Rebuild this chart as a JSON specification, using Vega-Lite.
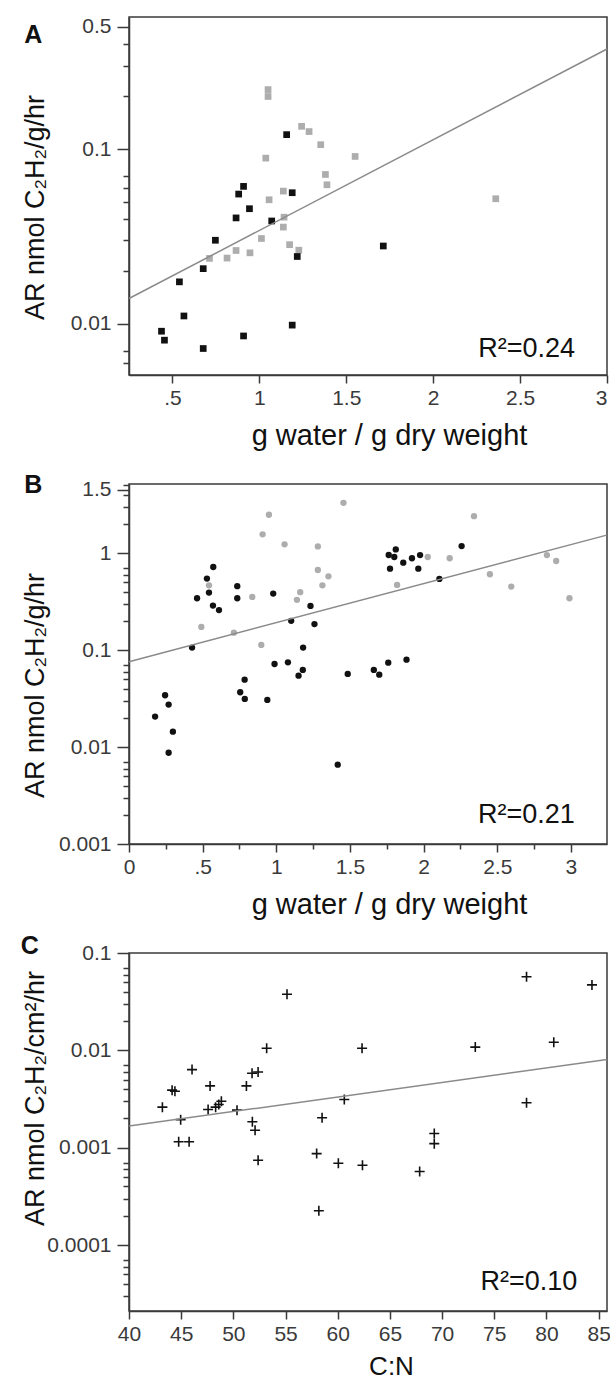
{
  "$schema": "https://vega.github.io/schema/vega-lite/v6.json",
  "background": "white",
  "padding": {"left": 20, "top": 15, "right": 0, "bottom": 0},
  "bounds": "flush",
  "spacing": 109,
  "config": {
    "font": "Liberation Sans",
    "view": {"stroke": "#3a3a3a", "strokeWidth": 1.5},
    "axis": {"grid": false, "labelFont": "Liberation Sans", "labelFontSize": 21, "labelColor": "#3a3a3a", "titleFont": "Liberation Sans", "titleFontSize": 27, "titleFontWeight": "normal", "titleColor": "#111111", "domainColor": "#3a3a3a", "domainWidth": 1.5, "tickColor": "#3a3a3a", "tickWidth": 1.5, "labelOverlap": false, "labelBound": false, "labelFlush": false},
    "axisY": {"titleAngle": -90, "titleBaseline": "alphabetic", "titleX": -86, "labelPadding": 6},
    "axisX": {"titlePadding": 13, "labelPadding": 4, "titleFontSize": 29}
  },
  "datasets": {
    "a_pts": [
      {"x": 1.243, "y": 0.135, "g": "l"}, {"x": 1.286, "y": 0.126, "g": "l"}, {"x": 1.353, "y": 0.106, "g": "l"}, {"x": 1.037, "y": 0.0888, "g": "l"}, {"x": 1.551, "y": 0.0908, "g": "l"}, {"x": 1.38, "y": 0.0716, "g": "l"}, {"x": 1.389, "y": 0.0625, "g": "l"}, {"x": 1.138, "y": 0.0575, "g": "l"}, {"x": 1.056, "y": 0.0513, "g": "l"}, {"x": 1.142, "y": 0.0408, "g": "l"}, {"x": 1.138, "y": 0.0358, "g": "l"}, {"x": 1.012, "y": 0.0308, "g": "l"}, {"x": 1.174, "y": 0.0284, "g": "l"}, {"x": 1.227, "y": 0.0264, "g": "l"}, {"x": 0.866, "y": 0.0263, "g": "l"}, {"x": 0.946, "y": 0.0255, "g": "l"}, {"x": 0.814, "y": 0.0238, "g": "l"}, {"x": 0.713, "y": 0.0237, "g": "l"}, {"x": 1.05, "y": 0.219, "g": "l"}, {"x": 1.05, "y": 0.2, "g": "l"}, {"x": 2.36, "y": 0.052, "g": "l"},
      {"x": 1.157, "y": 0.121, "g": "k"}, {"x": 0.909, "y": 0.0612, "g": "k"}, {"x": 0.881, "y": 0.0553, "g": "k"}, {"x": 0.943, "y": 0.0456, "g": "k"}, {"x": 0.866, "y": 0.0404, "g": "k"}, {"x": 1.071, "y": 0.0388, "g": "k"}, {"x": 1.189, "y": 0.0563, "g": "k"}, {"x": 0.747, "y": 0.0301, "g": "k"}, {"x": 1.218, "y": 0.0243, "g": "k"}, {"x": 0.677, "y": 0.0207, "g": "k"}, {"x": 0.54, "y": 0.0174, "g": "k"}, {"x": 0.566, "y": 0.0111, "g": "k"}, {"x": 0.437, "y": 0.00908, "g": "k"}, {"x": 0.454, "y": 0.00807, "g": "k"}, {"x": 0.677, "y": 0.00723, "g": "k"}, {"x": 0.909, "y": 0.00853, "g": "k"}, {"x": 1.189, "y": 0.00984, "g": "k"}, {"x": 1.713, "y": 0.0279, "g": "k"}
    ],
    "a_fit": [{"x": 0.25, "y": 0.01397}, {"x": 3.0, "y": 0.374}],
    "a_r2": [{"x": 2.816, "y": 0.0072, "t": "R²=0.24"}],
    "a_lab": [{"x": -0.3, "y": 0.451, "t": "A"}],
    "b_pts": [
      {"x": 1.456, "y": 3.29, "g": "l"}, {"x": 0.95, "y": 2.48, "g": "l"}, {"x": 0.907, "y": 1.56, "g": "l"}, {"x": 1.056, "y": 1.23, "g": "l"}, {"x": 1.282, "y": 1.17, "g": "l"}, {"x": 1.282, "y": 0.668, "g": "l"}, {"x": 1.354, "y": 0.575, "g": "l"}, {"x": 1.313, "y": 0.465, "g": "l"}, {"x": 1.162, "y": 0.395, "g": "l"}, {"x": 1.14, "y": 0.329, "g": "l"}, {"x": 0.837, "y": 0.353, "g": "l"}, {"x": 0.543, "y": 0.465, "g": "l"}, {"x": 0.491, "y": 0.173, "g": "l"}, {"x": 0.712, "y": 0.151, "g": "l"}, {"x": 0.898, "y": 0.113, "g": "l"}, {"x": 2.342, "y": 2.4, "g": "l"}, {"x": 2.028, "y": 0.91, "g": "l"}, {"x": 2.177, "y": 0.883, "g": "l"}, {"x": 1.82, "y": 0.469, "g": "l"}, {"x": 2.45, "y": 0.604, "g": "l"}, {"x": 2.595, "y": 0.451, "g": "l"}, {"x": 2.837, "y": 0.953, "g": "l"}, {"x": 2.9, "y": 0.828, "g": "l"}, {"x": 2.99, "y": 0.342, "g": "l"},
      {"x": 0.572, "y": 0.718, "g": "k"}, {"x": 0.529, "y": 0.545, "g": "k"}, {"x": 0.543, "y": 0.391, "g": "k"}, {"x": 0.462, "y": 0.342, "g": "k"}, {"x": 0.57, "y": 0.287, "g": "k"}, {"x": 0.611, "y": 0.258, "g": "k"}, {"x": 0.735, "y": 0.455, "g": "k"}, {"x": 0.735, "y": 0.342, "g": "k"}, {"x": 0.979, "y": 0.382, "g": "k"}, {"x": 0.428, "y": 0.106, "g": "k"}, {"x": 1.232, "y": 0.285, "g": "k"}, {"x": 1.101, "y": 0.2, "g": "k"}, {"x": 1.259, "y": 0.185, "g": "k"}, {"x": 1.182, "y": 0.106, "g": "k"}, {"x": 0.988, "y": 0.0718, "g": "k"}, {"x": 1.079, "y": 0.0746, "g": "k"}, {"x": 1.18, "y": 0.0623, "g": "k"}, {"x": 1.151, "y": 0.0544, "g": "k"}, {"x": 1.485, "y": 0.0567, "g": "k"}, {"x": 0.785, "y": 0.0495, "g": "k"}, {"x": 0.755, "y": 0.0367, "g": "k"}, {"x": 0.786, "y": 0.0313, "g": "k"}, {"x": 0.939, "y": 0.0306, "g": "k"}, {"x": 1.662, "y": 0.0623, "g": "k"}, {"x": 1.699, "y": 0.0557, "g": "k"}, {"x": 1.76, "y": 0.0741, "g": "k"}, {"x": 1.884, "y": 0.0795, "g": "k"}, {"x": 0.177, "y": 0.0206, "g": "k"}, {"x": 0.245, "y": 0.0342, "g": "k"}, {"x": 0.269, "y": 0.0274, "g": "k"}, {"x": 0.298, "y": 0.0144, "g": "k"}, {"x": 0.269, "y": 0.00873, "g": "k"}, {"x": 1.417, "y": 0.00657, "g": "k"}, {"x": 1.763, "y": 0.954, "g": "k"}, {"x": 1.811, "y": 1.09, "g": "k"}, {"x": 1.801, "y": 0.91, "g": "k"}, {"x": 1.772, "y": 0.69, "g": "k"}, {"x": 1.862, "y": 0.795, "g": "k"}, {"x": 1.921, "y": 0.883, "g": "k"}, {"x": 1.976, "y": 0.953, "g": "k"}, {"x": 1.964, "y": 0.69, "g": "k"}, {"x": 2.107, "y": 0.541, "g": "k"}, {"x": 2.258, "y": 1.18, "g": "k"}
    ],
    "b_fit": [{"x": 0.0, "y": 0.0758}, {"x": 3.243, "y": 1.53}],
    "b_r2": [{"x": 3.027, "y": 0.00198, "t": "R²=0.21"}],
    "b_lab": [{"x": -0.65, "y": 5.0, "t": "B"}],
    "c_pts": [
      {"x": 55.14, "y": 0.0377}, {"x": 53.19, "y": 0.0105}, {"x": 46.04, "y": 0.00634}, {"x": 51.79, "y": 0.00582}, {"x": 52.37, "y": 0.006}, {"x": 44.13, "y": 0.0039}, {"x": 44.4, "y": 0.0038}, {"x": 47.77, "y": 0.00431}, {"x": 51.25, "y": 0.00431}, {"x": 43.2, "y": 0.00261}, {"x": 47.58, "y": 0.00247}, {"x": 48.3, "y": 0.00261}, {"x": 48.6, "y": 0.00278}, {"x": 48.85, "y": 0.003}, {"x": 50.35, "y": 0.00243}, {"x": 44.95, "y": 0.00194}, {"x": 51.82, "y": 0.00185}, {"x": 52.08, "y": 0.00151}, {"x": 44.76, "y": 0.00115}, {"x": 45.76, "y": 0.00115}, {"x": 58.5, "y": 0.00203}, {"x": 60.63, "y": 0.00313}, {"x": 62.33, "y": 0.0105}, {"x": 57.98, "y": 0.000869}, {"x": 52.37, "y": 0.000743}, {"x": 78.09, "y": 0.0571}, {"x": 84.36, "y": 0.047}, {"x": 73.18, "y": 0.0108}, {"x": 80.7, "y": 0.0121}, {"x": 78.09, "y": 0.00289}, {"x": 69.25, "y": 0.0014}, {"x": 69.25, "y": 0.0011}, {"x": 67.85, "y": 0.000569}, {"x": 62.37, "y": 0.000661}, {"x": 60.06, "y": 0.000692}, {"x": 58.19, "y": 0.000225}
    ],
    "c_fit": [{"x": 40, "y": 0.00167}, {"x": 85.8, "y": 0.00803}],
    "c_r2": [{"x": 82.95, "y": 0.0000415, "t": "R²=0.10"}],
    "c_lab": [{"x": 30.5, "y": 0.117, "t": "C"}]
  },
  "vconcat": [
    {
      "width": 478, "height": 358,
      "encoding": {
        "x": {"field": "x", "type": "quantitative", "scale": {"domain": [0.25, 3], "nice": false, "zero": false},
          "axis": {"title": "g water / g dry weight", "titleX": 260, "values": [0.5, 1, 1.5, 2, 2.5, 3], "labelExpr": "datum.value == 0.5 ? '.5' : format(datum.value, '~g')", "tickSize": 8,
            "labelAlign": {"condition": {"test": "datum.value == 3", "value": "right"}, "value": "center"}}},
        "y": {"field": "y", "type": "quantitative", "scale": {"type": "log", "domain": [0.0051, 0.57], "nice": false},
          "axis": {"title": "AR nmol C₂H₂/g/hr", "titleY": 190, "values": [0.006, 0.007, 0.01, 0.02, 0.03, 0.04, 0.05, 0.06, 0.07, 0.1, 0.2, 0.3, 0.4, 0.5],
            "labelExpr": "indexof([0.01, 0.1, 0.5], datum.value) >= 0 ? format(datum.value, '~g') : ''",
            "tickSize": {"condition": {"test": "indexof([0.01, 0.1, 0.5], datum.value) >= 0", "value": 12}, "value": 6}}}
      },
      "layer": [
        {"data": {"name": "a_pts"}, "mark": {"type": "point", "shape": "square", "filled": true, "size": 45, "opacity": 1},
          "encoding": {"color": {"field": "g", "type": "nominal", "scale": {"domain": ["k", "l"], "range": ["#111111", "#adadad"]}, "legend": null}}},
        {"data": {"name": "a_fit"}, "mark": {"type": "line", "color": "#8a8a8a", "strokeWidth": 1.5}, "encoding": {}},
        {"data": {"name": "a_r2"}, "mark": {"type": "text", "align": "right", "baseline": "middle", "fontSize": 27, "color": "#111111"}, "encoding": {"text": {"field": "t"}}},
        {"data": {"name": "a_lab"}, "mark": {"type": "text", "align": "center", "baseline": "middle", "fontSize": 25, "fontWeight": "bold", "color": "#111111"}, "encoding": {"text": {"field": "t"}}}
      ]
    },
    {
      "width": 478, "height": 360,
      "encoding": {
        "x": {"field": "x", "type": "quantitative", "scale": {"domain": [0, 3.245], "nice": false, "zero": false},
          "axis": {"title": "g water / g dry weight", "titleX": 260, "values": [0, 0.25, 0.5, 0.75, 1, 1.25, 1.5, 1.75, 2, 2.25, 2.5, 2.75, 3],
            "labelExpr": "datum.value == 0.5 ? '.5' : (datum.value * 2) % 1 == 0 ? format(datum.value, '~g') : ''",
            "tickSize": {"condition": {"test": "(datum.value * 2) % 1 == 0", "value": 8}, "value": 5}}},
        "y": {"field": "y", "type": "quantitative", "scale": {"type": "log", "domain": [0.001, 5.15], "nice": false},
          "axis": {"title": "AR nmol C₂H₂/g/hr", "titleY": 201, "values": [0.001, 0.002, 0.003, 0.004, 0.005, 0.006, 0.007, 0.01, 0.02, 0.03, 0.04, 0.05, 0.06, 0.07, 0.1, 0.2, 0.3, 0.4, 0.5, 0.6, 0.7, 1, 2, 3, 4, 4.5, 5],
            "labelExpr": "datum.value == 4.5 ? '1.5' : indexof([0.001, 0.01, 0.1, 1], datum.value) >= 0 ? format(datum.value, '~g') : ''",
            "tickSize": {"condition": {"test": "indexof([0.001, 0.01, 0.1, 1, 4.5], datum.value) >= 0", "value": 12}, "value": 6}}}
      },
      "layer": [
        {"data": {"name": "b_pts"}, "mark": {"type": "point", "shape": "circle", "filled": true, "size": 40, "opacity": 1},
          "encoding": {"color": {"field": "g", "type": "nominal", "scale": {"domain": ["k", "l"], "range": ["#111111", "#b3b3b3"]}, "legend": null}}},
        {"data": {"name": "b_fit"}, "mark": {"type": "line", "color": "#8a8a8a", "strokeWidth": 1.5}, "encoding": {}},
        {"data": {"name": "b_r2"}, "mark": {"type": "text", "align": "right", "baseline": "middle", "fontSize": 27, "color": "#111111"}, "encoding": {"text": {"field": "t"}}},
        {"data": {"name": "b_lab"}, "mark": {"type": "text", "align": "center", "baseline": "middle", "fontSize": 25, "fontWeight": "bold", "color": "#111111"}, "encoding": {"text": {"field": "t"}}}
      ]
    },
    {
      "width": 478, "height": 358,
      "encoding": {
        "x": {"field": "x", "type": "quantitative", "scale": {"domain": [40, 85.8], "nice": false, "zero": false},
          "axis": {"title": "C:N", "titleX": 262, "titleFontSize": 26, "titlePadding": 9, "values": [40, 45, 50, 55, 60, 65, 70, 75, 80, 85], "tickSize": 8}},
        "y": {"field": "y", "type": "quantitative", "scale": {"type": "log", "domain": [0.000021, 0.1], "nice": false},
          "axis": {"title": "AR nmol C₂H₂/cm²/hr", "titleY": 145, "values": [0.00003, 0.00004, 0.00005, 0.00006, 0.00007, 0.0001, 0.0002, 0.0003, 0.0004, 0.0005, 0.0006, 0.0007, 0.001, 0.002, 0.003, 0.004, 0.005, 0.006, 0.007, 0.01, 0.02, 0.03, 0.04, 0.05, 0.06, 0.07, 0.1],
            "labelExpr": "indexof([0.0001, 0.001, 0.01, 0.1], datum.value) >= 0 ? format(datum.value, '~g') : ''",
            "tickSize": {"condition": {"test": "indexof([0.0001, 0.001, 0.01, 0.1], datum.value) >= 0", "value": 12}, "value": 6}}}
      },
      "layer": [
        {"data": {"name": "c_pts"}, "mark": {"type": "point", "shape": "M-1,0H1M0,-1V1", "filled": false, "size": 100, "stroke": "#111111", "strokeWidth": 1.6, "opacity": 1}},
        {"data": {"name": "c_fit"}, "mark": {"type": "line", "color": "#8a8a8a", "strokeWidth": 1.5}, "encoding": {}},
        {"data": {"name": "c_r2"}, "mark": {"type": "text", "align": "right", "baseline": "middle", "fontSize": 27, "color": "#111111"}, "encoding": {"text": {"field": "t"}}},
        {"data": {"name": "c_lab"}, "mark": {"type": "text", "align": "center", "baseline": "middle", "fontSize": 25, "fontWeight": "bold", "color": "#111111"}, "encoding": {"text": {"field": "t"}}}
      ]
    }
  ]
}
